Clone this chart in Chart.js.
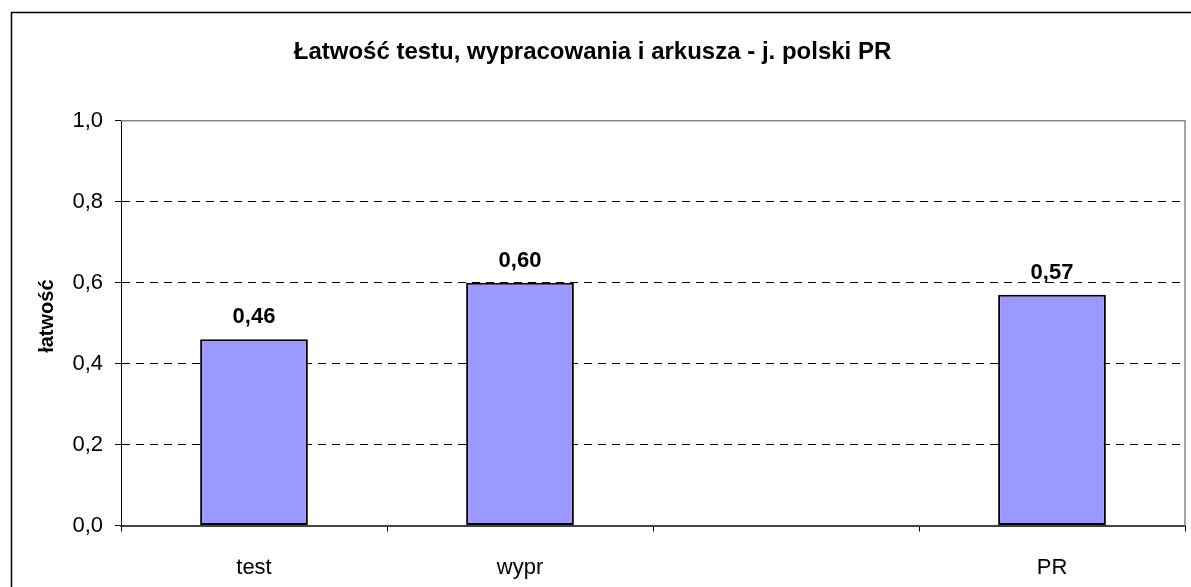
<!DOCTYPE html>
<html>
<head>
<meta charset="utf-8">
<script src="https://cdn.jsdelivr.net/npm/chart.js@4/dist/chart.umd.min.js"></script>
<style>
  html, body { margin: 0; padding: 0; background: #fff; }
  #wrap { position: relative; width: 1191px; height: 587px; }
</style>
</head>
<body>
<div id="wrap"><canvas id="chart"></canvas></div>
<script>
// data
const categories = ['test', 'wypr', '', 'PR'];
const values = [0.46, 0.60, null, 0.57];
const yTicks = [0, 0.2, 0.4, 0.6, 0.8, 1.0];
const yTitle = 'łatwość';

const fmt = (v, d) => v.toFixed(d).replace('.', ',');

Chart.defaults.font.family = '"Liberation Sans", Arial, sans-serif';
Chart.defaults.color = '#000';

// white page + outer frame
const framePlugin = {
  id: 'frame',
  beforeDraw(chart) {
    const ctx = chart.ctx;
    ctx.save();
    ctx.fillStyle = '#fff';
    ctx.fillRect(0, 0, chart.width, chart.height);
    ctx.strokeStyle = '#000';
    ctx.lineWidth = 1.5;
    ctx.strokeRect(11.5, 12.5, 1400, 800);
    ctx.restore();
  }
};

// gray border round the plot area, plus the rotated y title
const plotBorderPlugin = {
  id: 'plotBorder',
  beforeDatasetsDraw(chart) {
    const a = chart.chartArea;
    const ctx = chart.ctx;
    ctx.save();
    ctx.strokeStyle = '#888';
    ctx.lineWidth = 1.5;
    ctx.beginPath();
    ctx.moveTo(a.left, a.top);
    ctx.lineTo(a.right, a.top);
    ctx.lineTo(a.right, a.bottom);
    ctx.stroke();

    // y axis title sits a bit above the middle of the axis in the original
    ctx.translate(47, (a.top + a.bottom) / 2 - 7);
    ctx.rotate(-Math.PI / 2);
    ctx.font = 'bold 20px "Liberation Sans", Arial, sans-serif';
    ctx.fillStyle = '#000';
    ctx.textAlign = 'center';
    ctx.textBaseline = 'middle';
    ctx.fillText(yTitle, 0, 0);
    ctx.restore();
  }
};

// value labels above bars
const valueLabelPlugin = {
  id: 'valueLabels',
  afterDatasetsDraw(chart) {
    const ctx = chart.ctx;
    const meta = chart.getDatasetMeta(0);
    ctx.save();
    ctx.font = 'bold 22px "Liberation Sans", Arial, sans-serif';
    ctx.fillStyle = '#000';
    ctx.textAlign = 'center';
    ctx.textBaseline = 'alphabetic';
    meta.data.forEach((bar, i) => {
      if (values[i] == null) return;
      ctx.fillText(fmt(values[i], 2), bar.x, bar.y - 16);
    });
    ctx.restore();
  }
};

new Chart(document.getElementById('chart'), {
  type: 'bar',
  data: {
    labels: categories,
    datasets: [{
      data: values,
      backgroundColor: '#9999FF',
      borderColor: '#000',
      borderWidth: 2,
      borderSkipped: false,
      categoryPercentage: 1.0,
      barPercentage: 0.405
    }]
  },
  options: {
    responsive: true,
    maintainAspectRatio: false,
    animation: false,
    layout: { padding: { left: 0, right: 6, top: 0, bottom: 0 } },
    plugins: {
      legend: { display: false },
      tooltip: { enabled: false },
      title: {
        display: true,
        text: 'Łatwość testu, wypracowania i arkusza - j. polski PR',
        color: '#000',
        font: { size: 24, weight: 'bold' },
        padding: { top: 38, bottom: 54 }
      }
    },
    scales: {
      x: {
        grid: {
          offset: true,
          drawOnChartArea: false,
          drawTicks: true,
          tickLength: 6,
          color: '#000'
        },
        border: { color: '#444', width: 2 },
        ticks: { font: { size: 22 }, color: '#000', padding: 23 },
        afterFit(scale) { scale.height = 61.5; }
      },
      y: {
        min: 0,
        max: 1,
        afterBuildTicks(scale) {
          scale.ticks = yTicks.map(v => ({ value: v }));
        },
        grid: {
          color: ctx => (ctx.tick && ctx.tick.value === 1) ? 'rgba(0,0,0,0)' : '#000',
          tickColor: '#000',
          tickLength: 6
        },
        border: { color: '#000', width: 1, dash: [8, 6] },
        ticks: {
          font: { size: 22 },
          color: '#000',
          padding: 12,
          callback: v => fmt(v, 1)
        },
        afterFit(scale) { scale.width = 121; }
      }
    }
  },
  plugins: [framePlugin, plotBorderPlugin, valueLabelPlugin]
});
</script>
</body>
</html>
